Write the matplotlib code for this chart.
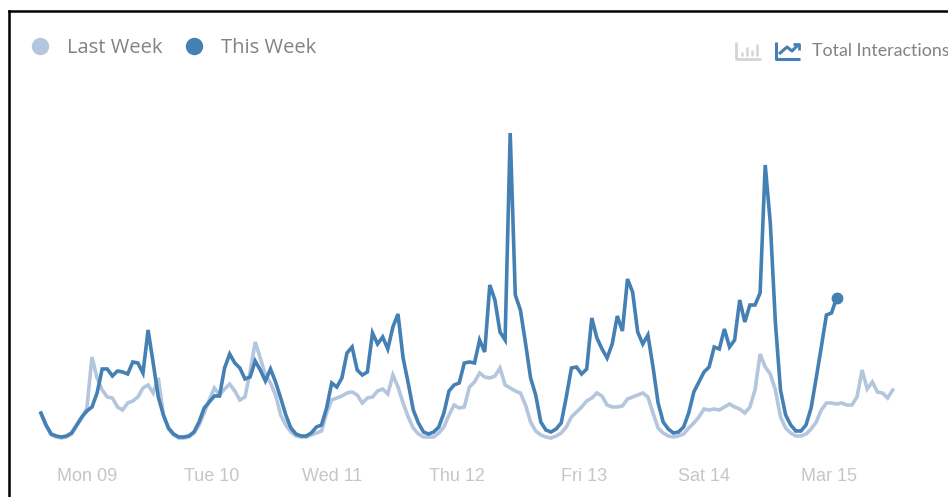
import numpy as np
import matplotlib
matplotlib.use("Agg")
import matplotlib.pyplot as plt
from matplotlib.lines import Line2D

W, H = 948, 497

last_week = [
    26, 14, 5, 3, 2, 3, 6, 14, 22, 32,
    83, 62, 50, 43, 42, 33, 30, 37, 39, 43,
    52, 55, 47, 62, 25, 11, 5, 2, 2, 3,
    7, 15, 27, 40, 52, 45, 51, 56, 49, 40,
    43, 68, 98, 82, 65, 57, 45, 25, 15, 8,
    4, 3, 3, 5, 7, 9, 27, 40, 42, 44,
    47, 48, 45, 37, 42, 43, 49, 51, 46, 65,
    53, 37, 23, 12, 6, 3, 3, 3, 7, 13,
    25, 35, 32, 33, 53, 58, 67, 63, 62, 64,
    72, 55, 52, 49, 47, 35, 18, 9, 5, 3,
    2, 4, 7, 13, 23, 28, 33, 39, 42, 47,
    44, 35, 33, 33, 34, 41, 43, 45, 47, 43,
    27, 12, 7, 4, 3, 4, 6, 12, 17, 23,
    31, 30, 31, 30, 33, 36, 33, 31, 27, 33,
    50, 86, 73, 66, 50, 23, 12, 7, 4, 4,
    6, 11, 18, 30, 37, 37, 36, 37, 35, 35,
    43, 70, 51, 58, 48, 47, 42, 50,
]

this_week = [
    27, 15, 6, 4, 3, 4, 7, 15, 23, 29,
    33, 47, 71, 71, 64, 69, 68, 66, 78, 77,
    67, 110, 77, 43, 25, 12, 6, 3, 3, 4,
    8, 18, 32, 38, 44, 44, 72, 86, 77, 72,
    61, 63, 79, 70, 59, 71, 58, 42, 25, 12,
    6, 4, 4, 7, 13, 15, 32, 57, 53, 62,
    87, 93, 70, 65, 68, 107, 96, 103, 91, 113,
    126, 82, 57, 30, 17, 8, 6, 8, 13, 27,
    49, 55, 57, 77, 78, 77, 100, 88, 155, 140,
    108, 100, 307, 145, 130, 97, 62, 45, 18, 10,
    8, 11, 17, 43, 72, 73, 66, 71, 122, 102,
    91, 82, 96, 124, 109, 161, 148, 108, 96, 105,
    73, 37, 18, 11, 7, 8, 13, 27, 48, 58,
    68, 73, 93, 91, 111, 93, 100, 140, 118, 135,
    135, 147, 275, 217, 117, 50, 25, 15, 9, 9,
    15, 32, 62, 93, 125, 127, 142,
]

day_hours = [9, 33.5, 57, 81.5, 106.5, 130, 154.5]
day_labels = ["Mon 09", "Tue 10", "Wed 11", "Thu 12", "Fri 13", "Sat 14", "Mar 15"]

light = "#b4c5de"
blue = "#4480b3"
grey = "#828282"


def px(x, y):
    return x / W, 1 - y / H


def icon_line(xs, ys, color, lw):
    fx, fy = px(np.array(xs, dtype=float), np.array(ys, dtype=float))
    fig.add_artist(Line2D(fx, fy, color=color, lw=lw, solid_capstyle="butt"))


fig = plt.figure(figsize=(W / 100, H / 100), dpi=100)
ax = fig.add_axes([9 / W, 0, 939 / W, 486 / H])

ax.plot(np.arange(len(last_week)), last_week, color=light, lw=2.6, solid_joinstyle="miter")
ax.plot(np.arange(len(this_week)), this_week, color=blue, lw=2.6, solid_joinstyle="miter")
ax.plot(len(this_week) - 1, this_week[-1], "o", color=blue, ms=7.5)

ax.set_xlim(-6.27, 177.84)
ax.set_ylim(-57, 429)
ax.set_yticks([])
ax.set_xticks(day_hours)
ax.set_xticklabels(day_labels, family="Liberation Sans", fontsize=13, color="#c6c6c6")
ax.tick_params(axis="x", length=0, pad=-21)

for side in ["right", "bottom"]:
    ax.spines[side].set_visible(False)
for side in ["left", "top"]:
    ax.spines[side].set_linewidth(1.8)

handles = [
    Line2D([], [], marker="o", ls="none", color=light, ms=11.5),
    Line2D([], [], marker="o", ls="none", color=blue, ms=11.5),
]
ax.legend(handles, ["Last Week", "This Week"], ncols=2, frameon=False,
          loc="upper left", bbox_to_anchor=(17 / 939, 1 - 27 / 486), borderaxespad=0, borderpad=0,
          handletextpad=0.65, columnspacing=0.85, handlelength=1.4,
          prop={"family": "Open Sans", "size": 14.5}, labelcolor=grey)

# chart type toggle, top right
icon_line([736, 736, 761], [42, 59, 59], "#d4d4d4", 2.0)
for bar_x, bar_top in zip([742, 747, 752, 757], [52, 47, 50, 44]):
    icon_line([bar_x, bar_x], [bar_top, 56], "#d4d4d4", 1.8)
icon_line([776, 776, 800], [42, 59, 59], blue, 2.2)
icon_line([779, 787, 792, 798], [54, 47, 51, 45], blue, 2.2)
icon_line([793, 799, 799], [44, 44, 50], blue, 2.0)

tx, ty = px(812, 51)
fig.text(tx, ty, "Total Interactions", family="Lato", fontsize=12.8, color=grey, va="center")

fig.savefig("out.png", dpi=100)
